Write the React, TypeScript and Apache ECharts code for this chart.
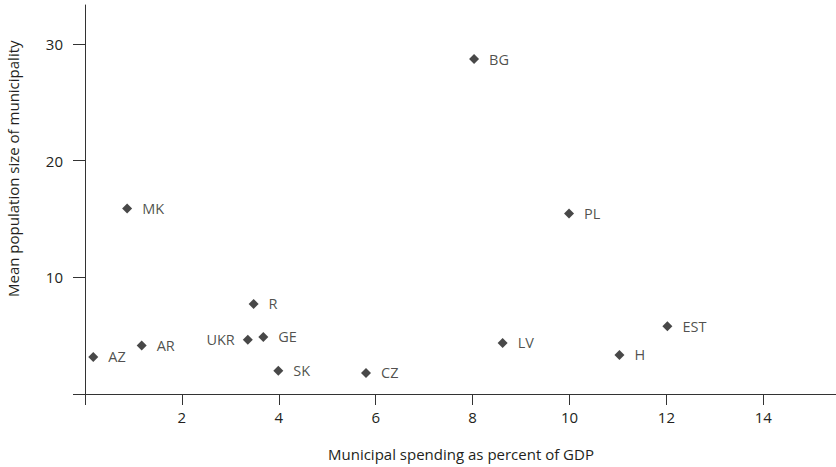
import React, { useEffect, useRef } from "react";
import * as echarts from "echarts";

const countries = ["AZ", "AR", "MK", "UKR", "GE", "R", "SK", "CZ", "BG", "LV", "PL", "H", "EST"];
const spending = [0.17, 1.17, 0.87, 3.36, 3.68, 3.48, 3.99, 5.8, 8.03, 8.62, 9.99, 11.03, 12.02];
const popSize = [3.18, 4.15, 15.9, 4.64, 4.89, 7.72, 2.0, 1.81, 28.7, 4.38, 15.46, 3.35, 5.8];
const labelLeft = ["UKR"];

const xTicks = [0, 2, 4, 6, 8, 10, 12, 14];
const xLabels = [2, 4, 6, 8, 10, 12, 14];
const yTicks = [0, 10, 20, 30];
const yLabels = [10, 20, 30];

const xTitle = "Municipal spending as percent of GDP";
const yTitle = "Mean population size of municipality";

const FONT = "'Open Sans', 'Noto Sans', sans-serif";
const TEXT = "#231f20";
const AXIS = "#333333";

export default function App() {
  const ref = useRef<HTMLDivElement>(null);
  useEffect(() => {
    if (!ref.current) return;
    const chart = echarts.init(ref.current, null, { renderer: "svg" });
    const data = countries.map((c, i) => ({
      name: c,
      value: [spending[i], popSize[i]],
      label: labelLeft.includes(c)
        ? { position: "left", distance: 8 }
        : { position: "right", distance: 10 },
    }));
    chart.setOption({
      animation: false,
      textStyle: { fontFamily: FONT },
      grid: { left: 85, top: 5, right: 0, bottom: 73, containLabel: false },
      xAxis: {
        type: "value",
        min: 0,
        max: 15.5,
        interval: 2,
        splitLine: { show: false },
        axisLine: { show: true, lineStyle: { color: AXIS, width: 1 } },
        axisTick: { show: true, length: 11, lineStyle: { color: AXIS }, customValues: xTicks },
        axisLabel: { customValues: xLabels, margin: 15, fontSize: 15, color: TEXT, fontFamily: FONT },
      },
      yAxis: {
        type: "value",
        min: 0,
        max: 33.33,
        interval: 10,
        splitLine: { show: false },
        axisLine: { show: true, lineStyle: { color: AXIS, width: 1 } },
        axisTick: { show: true, length: 12, lineStyle: { color: AXIS }, customValues: yTicks },
        axisLabel: { customValues: yLabels, margin: 22, fontSize: 15, color: TEXT, fontFamily: FONT },
      },
      graphic: [
        {
          type: "text",
          left: 328,
          top: 446,
          style: { text: xTitle, fontSize: 15, fill: TEXT, fontFamily: FONT },
        },
        {
          type: "text",
          x: 5,
          y: 297,
          rotation: Math.PI / 2,
          style: { text: yTitle, fontSize: 15, fill: TEXT, fontFamily: FONT, textVerticalAlign: "top" },
        },
      ],
      series: [
        {
          type: "scatter",
          symbol: "diamond",
          symbolSize: 10,
          itemStyle: { color: "#1a1a1a" },
          label: {
            show: true,
            formatter: "{b}",
            fontSize: 14.5,
            color: TEXT,
            fontFamily: FONT,
          },
          data,
        },
      ],
    });
    return () => chart.dispose();
  }, []);
  return <div ref={ref} style={{ width: 836, height: 467, position: "absolute", left: 0, top: 0 }} />;
}
